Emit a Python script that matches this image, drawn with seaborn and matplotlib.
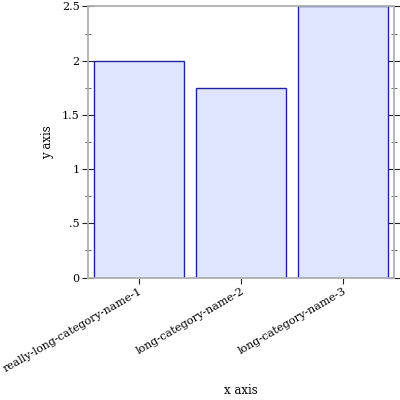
import matplotlib
matplotlib.use("Agg")
import matplotlib.pyplot as plt
from matplotlib.ticker import MultipleLocator, FuncFormatter
import pandas as pd
import seaborn as sns

categories = ["really-long-category-name-1", "long-category-name-2", "long-category-name-3"]
values = [2.0, 1.75, 2.5]

sns.set_theme(style="white")
plt.rcParams['font.family'] = ['DejaVu Serif']
plt.rcParams['font.size'] = 8
plt.rcParams['text.color'] = "black"
plt.rcParams['axes.labelcolor'] = "black"
plt.rcParams['xtick.color'] = "black"
plt.rcParams['ytick.color'] = "black"

table = pd.DataFrame({"category": categories, "value": values})

fig = plt.figure(figsize=(4, 4), dpi=100)
ax = fig.add_axes([0.22, 0.306, 0.765, 0.678])

sns.barplot(data=table, x="category", y="value", ax=ax, width=0.875,
            color="#e0e5ff", edgecolor="#22229a", linewidth=1.0, saturation=1)

ax.set_xlim(-0.5, 2.5)
ax.set_ylim(0, 2.5)

for side in ["left", "right", "top", "bottom"]:
    ax.spines[side].set_visible(True)
    ax.spines[side].set_color("#b0b0b0")
    ax.spines[side].set_linewidth(1.3)

ax.yaxis.set_major_locator(MultipleLocator(0.5))
ax.yaxis.set_minor_locator(MultipleLocator(0.25))


def fmt(v, pos):
    s = f"{v:g}"
    if s.startswith("0."):
        s = s[1:]
    return s


ax.yaxis.set_major_formatter(FuncFormatter(fmt))
ax.tick_params(axis="y", which="major", direction="inout", length=8, width=0.8,
               color="#222222", left=True, right=True, labelsize=8, pad=2)
ax.tick_params(axis="y", which="minor", direction="inout", length=4, width=0.6,
               color="#555555", left=True, right=True)
ax.tick_params(axis="x", which="major", direction="out", length=4, width=0.8,
               color="#222222", bottom=True, top=False, labelsize=8, pad=2)

plt.setp(ax.get_xticklabels(), rotation=30, ha="right", rotation_mode="anchor")

ax.set_xlabel("x axis", fontsize=8.5, va="center")
ax.set_ylabel("y axis", fontsize=8.5, va="center")
ax.xaxis.set_label_coords(0.5, -0.415)
ax.yaxis.set_label_coords(-0.131, 0.5)

fig.savefig("out.png", dpi=100)
